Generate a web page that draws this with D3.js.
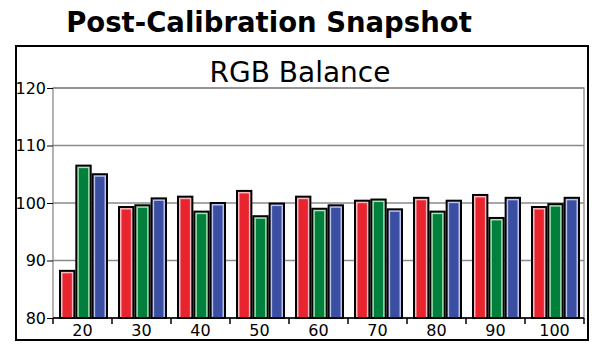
<!DOCTYPE html>
<html>
<head>
<meta charset="utf-8">
<script src="https://cdn.jsdelivr.net/npm/d3@7"></script>
<style>
  body { margin: 0; background: #fff; }
  text { font-family: "DejaVu Sans", Verdana, sans-serif; }
</style>
</head>
<body>
<div id="chart"></div>
<script>
// data
const categories = ["20", "30", "40", "50", "60", "70", "80", "90", "100"];
const red   = [88.2, 99.3, 101.1, 102.1, 101.1, 100.4, 100.9, 101.4, 99.3];
const green = [106.5, 99.6, 98.5, 97.7, 99.0, 100.6, 98.5, 97.4, 99.8];
const blue  = [105.0, 100.8, 100.0, 99.9, 99.6, 98.9, 100.4, 100.9, 100.9];
const yTicks = [80, 90, 100, 110, 120];

const seriesNames = ["R", "G", "B"];
const fills = { R: "#e8242f", G: "#00803c", B: "#3a4ea2" };
const lights = { R: "#f7b8c0", G: "#a8e6b4", B: "#b9c3ee" };

const data = categories.map((c, i) => ({ cat: c, R: red[i], G: green[i], B: blue[i] }));

const W = 600, H = 353;
const plot = { left: 53, right: 584, top: 88, bottom: 318 };

const svg = d3.select("#chart").append("svg")
    .attr("width", W)
    .attr("height", H);

// main title
svg.append("text")
    .attr("x", 269)
    .attr("y", 32)
    .attr("text-anchor", "middle")
    .style("font-size", "27.5px")
    .style("font-weight", "bold")
    .text("Post-Calibration Snapshot");

// outer frame
svg.append("rect")
    .attr("x", 16).attr("y", 46)
    .attr("width", 572).attr("height", 294)
    .attr("fill", "none")
    .attr("stroke", "#000")
    .attr("stroke-width", 2);

svg.append("text")
    .attr("x", 300)
    .attr("y", 82)
    .attr("text-anchor", "middle")
    .style("font-size", "28px")
    .text("RGB Balance");

const x0 = d3.scaleBand()
    .domain(categories)
    .range([plot.left, plot.right])
    .paddingInner(0)
    .paddingOuter(0);

const x1 = d3.scaleBand()
    .domain(seriesNames)
    .range([7, x0.bandwidth() - 5])
    .paddingInner(0.12);

const y = d3.scaleLinear()
    .domain([80, 120])
    .range([plot.bottom, plot.top]);

// gridlines
svg.append("g")
    .selectAll("line")
    .data(yTicks)
    .join("line")
    .attr("x1", plot.left).attr("x2", plot.right)
    .attr("y1", d => y(d)).attr("y2", d => y(d))
    .attr("stroke", "#8a8a8a")
    .attr("stroke-width", 1.3);

// plot border
svg.append("rect")
    .attr("x", plot.left).attr("y", plot.top)
    .attr("width", plot.right - plot.left)
    .attr("height", plot.bottom - plot.top)
    .attr("fill", "none")
    .attr("stroke", "#8a8a8a")
    .attr("stroke-width", 1.3);

// y axis
const yAxis = d3.axisLeft(y).tickValues(yTicks).tickSize(6).tickPadding(1);
svg.append("g")
    .attr("transform", `translate(${plot.left},0)`)
    .call(yAxis)
    .call(g => g.select(".domain").remove())
    .call(g => g.selectAll("text").style("font-size", "16px").attr("fill", "#000")
        .style("font-family", "'DejaVu Sans', Verdana, sans-serif"))
    .call(g => g.selectAll("line").attr("stroke", "#000"));

// bars
const groups = svg.append("g")
    .selectAll("g")
    .data(data)
    .join("g")
    .attr("transform", d => `translate(${x0(d.cat)},0)`);

const bars = groups.selectAll("g")
    .data(d => seriesNames.map(k => ({ key: k, value: d[k] })))
    .join("g");

bars.append("rect")
    .attr("x", d => x1(d.key))
    .attr("y", d => y(d.value))
    .attr("width", x1.bandwidth())
    .attr("height", d => y(80) - y(d.value))
    .attr("fill", d => lights[d.key])
    .attr("stroke", "#000")
    .attr("stroke-width", 2);

bars.append("rect")
    .attr("x", d => x1(d.key) + 2.5)
    .attr("y", d => y(d.value) + 2.5)
    .attr("width", x1.bandwidth() - 5)
    .attr("height", d => Math.max(0, y(80) - y(d.value) - 2.5))
    .attr("fill", d => fills[d.key]);

// x axis line and ticks at band edges
svg.append("line")
    .attr("x1", plot.left).attr("x2", plot.right)
    .attr("y1", plot.bottom).attr("y2", plot.bottom)
    .attr("stroke", "#000")
    .attr("stroke-width", 1.5);

const edges = categories.map(c => x0(c)).concat([plot.right]);
svg.append("g")
    .selectAll("line")
    .data(edges)
    .join("line")
    .attr("x1", d => d).attr("x2", d => d)
    .attr("y1", plot.bottom).attr("y2", plot.bottom + 6)
    .attr("stroke", "#000")
    .attr("stroke-width", 1.5);

svg.append("g")
    .selectAll("text")
    .data(categories)
    .join("text")
    .attr("x", d => x0(d) + x0.bandwidth() / 2)
    .attr("y", plot.bottom + 18)
    .attr("text-anchor", "middle")
    .style("font-size", "16px")
    .text(d => d);
</script>
</body>
</html>
